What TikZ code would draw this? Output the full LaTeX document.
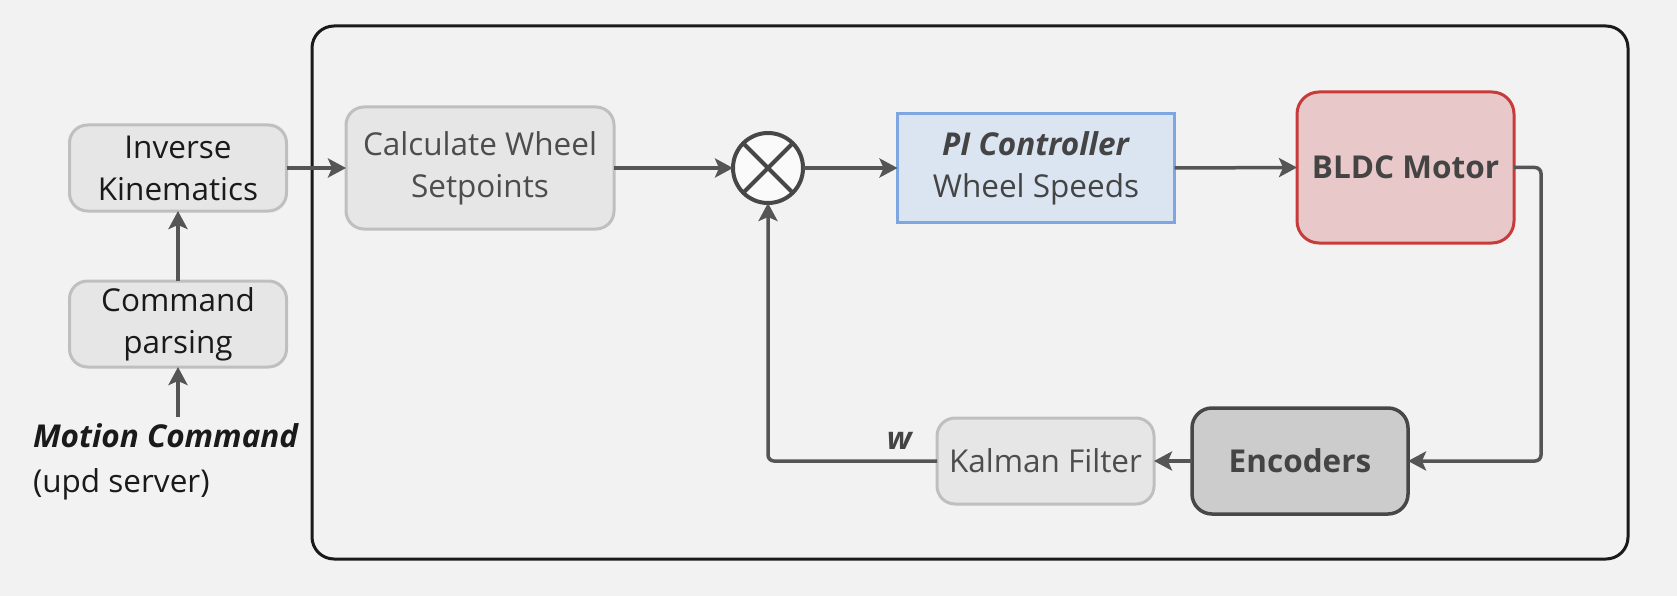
\documentclass[tikz,border=0pt]{standalone}
\usepackage{fontspec}
\setmainfont{Open Sans}
\usetikzlibrary{arrows.meta,calc}
\definecolor{bgc}{HTML}{F2F2F2}
\definecolor{boxfill}{HTML}{E6E6E6}
\definecolor{boxline}{HTML}{BFBFBF}
\definecolor{pifill}{HTML}{DAE5F1}
\definecolor{piline}{HTML}{7EA6E0}
\definecolor{mfill}{HTML}{E8C8C9}
\definecolor{mline}{HTML}{C73B3B}
\definecolor{efill}{HTML}{CCCCCC}
\definecolor{eline}{HTML}{474747}
\definecolor{arrc}{HTML}{555555}
\definecolor{darktxt}{HTML}{1A1A1A}
\definecolor{midtxt}{HTML}{444444}
\definecolor{greytxt}{HTML}{4D4D4D}
\begin{document}
\begin{tikzpicture}[x=1pt,y=-1pt,
  every node/.style={font=\fontsize{31.5pt}{42pt}\selectfont, outer sep=0pt, inner sep=0pt, align=center},
  plainbox/.style={draw=boxline, fill=boxfill, line width=3pt, rounded corners=18pt, text=darktxt},
  greybox/.style={plainbox, text=greytxt},
  pibox/.style={draw=piline, fill=pifill, line width=3pt, text=midtxt},
  motorbox/.style={draw=mline, fill=mfill, line width=3pt, rounded corners=22pt, text=midtxt},
  encbox/.style={draw=eline, fill=efill, line width=3.5pt, rounded corners=20pt, text=midtxt},
  arr/.style={draw=arrc, line width=3.5pt, -{Stealth[length=18pt, width=19pt, inset=4pt]}}
]
\fill[bgc] (0,0) rectangle (1677,596);
\useasboundingbox (0,0) rectangle (1677,596);

\node[draw=darktxt, line width=3pt, rounded corners=22pt, minimum width=1316pt, minimum height=533pt] (frame) at (970,292.5) {};

\node[plainbox, minimum width=217pt, minimum height=86pt] (ik) at (178,168) {Inverse\\Kinematics};
\node[plainbox, minimum width=217pt, minimum height=86pt] (cp) at (178,324) {Command\\parsing};
\node[anchor=north west, align=left, text=darktxt] (mc) at (33,424) {\textbf{\textit{Motion Command}}\\[3pt](upd server)};
\coordinate (mctop) at ($(mc.north -| cp.south)+(0,-7)$);

\node[greybox, minimum width=268pt, minimum height=122pt] (cws) at (480,168) {Calculate Wheel\\Setpoints};
\node[circle, draw=eline, fill=white!60!bgc, line width=4pt, minimum size=70pt] (sum) at (768,168) {};
\draw[eline, line width=4pt] (sum.north east) -- (sum.south west) (sum.north west) -- (sum.south east);

\node[pibox, minimum width=277pt, minimum height=108pt] (pi) at (1036,168) {\textbf{\textit{PI Controller}}\\Wheel Speeds};
\node[motorbox, minimum width=217pt, minimum height=151pt] (bldc) at (1405.5,167.5) {\textbf{BLDC Motor}};
\node[encbox, minimum width=216pt, minimum height=106pt] (enc) at (1300,461) {\textbf{Encoders}};
\node[greybox, minimum width=217pt, minimum height=86pt] (kal) at (1045.5,461) {Kalman Filter};
\node[text=midtxt] (wl) at (900,441) {\textbf{\textit{w}}};

\draw[arr] (mctop) -- (cp.south);
\draw[arr] (cp.north) -- (ik.south);
\draw[arr] (ik.east) -- (cws.west);
\draw[arr] (cws.east) -- (sum.west);
\draw[arr] (sum.east) -- (pi.west);
\draw[arr] (pi.east) -- (bldc.west);
\draw[arr, rounded corners=6pt] (bldc.east) -- ++(27,0) |- (enc.east);
\draw[arr] (enc.west) -- (kal.east);
\draw[arr, rounded corners=6pt] (kal.west) -| (sum.south);
\end{tikzpicture}
\end{document}
